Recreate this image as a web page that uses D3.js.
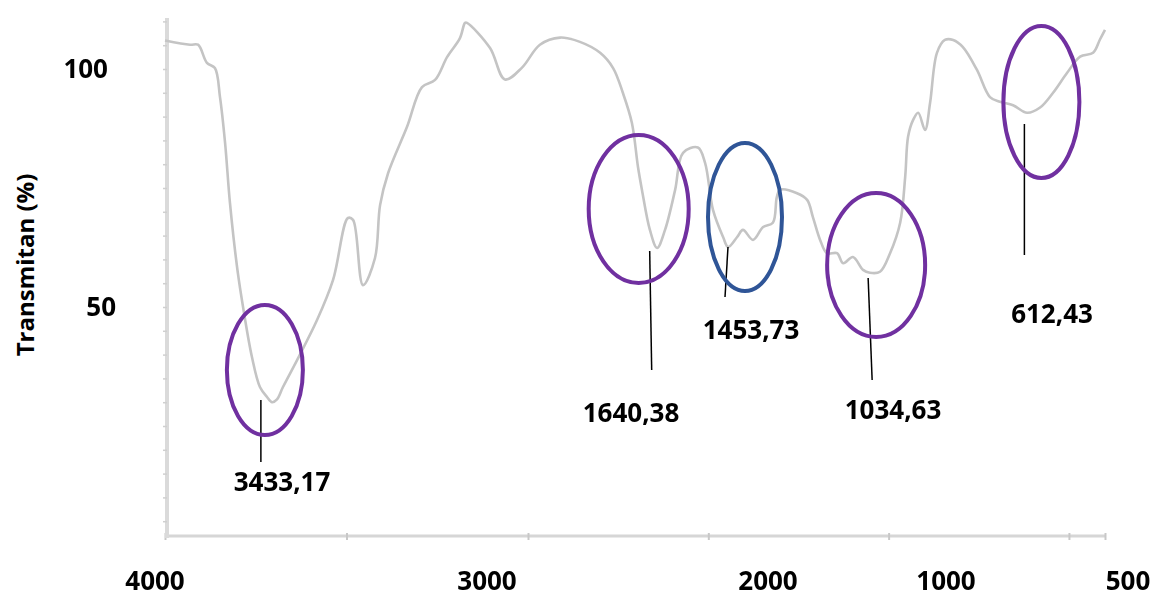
<!DOCTYPE html>
<html>
<head>
<meta charset="utf-8">
<script src="https://cdn.jsdelivr.net/npm/d3@7"></script>
<style>
  html, body { margin: 0; padding: 0; background: #ffffff; }
  svg { display: block; font-family: "Open Sans", "Noto Sans", sans-serif; }
</style>
</head>
<body>
<svg id="chart" width="1154" height="598"></svg>
<script>
// FTIR spectrum: wavenumber (cm-1) against transmittance (%)
const wavenumber = [
  4000, 3862, 3818, 3769, 3725, 3697, 3669, 3642, 3603, 3570, 3521, 3477, 3438, 3410,
  3383, 3350, 3273, 3163, 3074, 2992, 2964, 2909, 2843, 2815, 2771, 2667, 2584, 2512,
  2446, 2375, 2347, 2336, 2209, 2127, 2033, 1967, 1911, 1856, 1800, 1764, 1737, 1712,
  1695, 1684, 1662, 1642, 1620, 1592, 1570, 1529, 1509, 1487, 1459, 1445, 1420, 1404,
  1376, 1348, 1321, 1310, 1301, 1254, 1226, 1210, 1190, 1171, 1143, 1126, 1099, 1071,
  1052, 1024, 996, 968, 954, 946, 932, 918, 899, 885, 866, 844, 821, 794, 755, 719,
  691, 655, 616, 580, 544, 505, 469, 433, 414, 400
];
const transmittance = [
  106.0, 105.1, 105.1, 101.3, 100.2, 94.1, 84.5, 71.8, 58.4, 50.0, 39.5, 33.2, 31.1, 30.0,
  30.6, 33.2, 38.8, 47.2, 55.7, 68.7, 68.3, 54.6, 60.3, 71.4, 78.1, 87.8, 96.2, 97.7,
  102.5, 106.5, 109.7, 109.7, 104.4, 97.8, 100.3, 105.1, 106.6, 105.7, 103.4, 100.2, 95.0, 88.7,
  79.4, 74.6, 66.2, 62.4, 66.2, 74.6, 82.4, 83.5, 80.3, 70.4, 64.7, 62.6, 64.7, 66.2,
  64.1, 66.8, 67.7, 73.1, 74.6, 73.9, 72.5, 68.9, 64.1, 61.3, 61.3, 59.2, 60.5, 57.8,
  57.2, 57.4, 61.3, 67.7, 77.4, 85.8, 89.3, 90.8, 87.2, 92.9, 103.4, 106.1, 106.1, 104.6, 99.8, 94.1,
  93.1, 92.4, 90.8, 91.9, 95.0, 99.2, 102.6, 103.4, 106.2, 108.2
];

// Annotated absorption bands
const peakWavenumbers = [3433.17, 1640.38, 1453.73, 1034.63, 612.43];
const peakLabels = ["3433,17", "1640,38", "1453,73", "1034,63", "612,43"];

// Axis tick values and their printed labels
const xTickValues = [4000, 3000, 2000, 1500, 1000, 500, 400];
const xTickLabels = ["4000", "3000", "2000", "1000", "500"];
const yTickLabelValues = [100, 50];
const yTickLabels = ["100", "50"];
const yTitle = "Transmitan (%)";

// ---- layout ----
const plot = { left: 167, right: 1105, top: 18, bottom: 538 };
const wnBreak = 2000;   // the scale doubles below 2000 cm-1
const labelSize = 26;

// x label positions (centre x, baseline)
const xLabelPos = [[155, 590], [487, 590], [768, 590], [946, 590], [1128, 590]];
// y label right edges
const yLabelRight = [108, 116];

// annotation geometry per band: ellipse centre offset, radii, leader line, label
const annot = [
  { color: "#7030a0", dx: -3,  cy: 370, rx: 38, ry: 65, lx: -7, l1: [400, 462], ldx: 0,  tx: 282, ty: 491 },
  { color: "#7030a0", dx: -19, cy: 209, rx: 50, ry: 74, lx: -8, l1: [251, 370], ldx: 2,  tx: 631, ty: 422 },
  { color: "#2f5597", dx: 20,  cy: 217, rx: 37, ry: 74, lx: 3,  l1: [247, 297], ldx: -3, tx: 751, ty: 339 },
  { color: "#7030a0", dx: 0,   cy: 265, rx: 49, ry: 72, lx: -8, l1: [278, 380], ldx: 4,  tx: 893, ty: 419 },
  { color: "#7030a0", dx: 13,  cy: 102, rx: 38, ry: 76, lx: -4, l1: [124, 255], ldx: 0,  tx: 1052, ty: 323 }
];

const svg = d3.select("#chart");

const defs = svg.append("defs");
defs.append("filter").attr("id", "soft")
  .attr("x", "-5%").attr("y", "-5%").attr("width", "110%").attr("height", "110%")
  .append("feGaussianBlur").attr("stdDeviation", 0.6);

const x = d3.scaleLinear()
  .domain([4000, wnBreak, 400])
  .range([plot.left - 2, plot.left + 361, plot.right]);

const y = d3.scaleLinear()
  .domain([0, 100])
  .range([545, 69]);

const yTop = y.invert(plot.top), yBottom = y.invert(plot.bottom);

// axes
const axisG = svg.append("g").attr("filter", "url(#soft)");

const xAxis = d3.axisBottom(x).tickValues(xTickValues).tickSize(4).tickFormat("");
const gx = axisG.append("g")
  .attr("transform", `translate(0,${plot.bottom - 2})`)
  .call(xAxis);
gx.select(".domain").attr("stroke", "#d6d6d6").attr("stroke-width", 3)
  .attr("d", `M${plot.left},0H${plot.right}`);
gx.selectAll(".tick line").attr("stroke", "#c8c8c8").attr("stroke-width", 2).attr("y1", -3);

const yScaleAxis = y.copy().domain([yBottom, yTop]).range([plot.bottom, plot.top]);
const yAxis = d3.axisLeft(yScaleAxis)
  .tickValues(d3.range(5, yTop, 5))
  .tickSize(4).tickFormat("");
const gy = axisG.append("g")
  .attr("transform", `translate(${plot.left},0)`)
  .call(yAxis);
gy.select(".domain").attr("stroke", "#dadada").attr("stroke-width", 4)
  .attr("d", `M0,${plot.top}V${plot.bottom}`);
gy.selectAll(".tick line").attr("stroke", "#cfcfcf").attr("stroke-width", 1.5);

// spectrum
const spectrum = wavenumber.map((w, i) => ({ w, t: transmittance[i] }));
const line = d3.line()
  .x(d => x(d.w))
  .y(d => y(d.t))
  .curve(d3.curveCatmullRom.alpha(0.5));

svg.append("path")
  .datum(spectrum)
  .attr("d", line)
  .attr("fill", "none")
  .attr("stroke", "#c4c4c4")
  .attr("stroke-width", 2.6)
  .attr("stroke-linejoin", "round")
  .attr("filter", "url(#soft)");

// axis labels
svg.append("g").selectAll("text")
  .data(xTickLabels)
  .join("text")
  .attr("x", (d, i) => xLabelPos[i][0])
  .attr("y", (d, i) => xLabelPos[i][1])
  .attr("text-anchor", "middle")
  .attr("font-weight", "bold")
  .attr("font-size", labelSize)
  .attr("fill", "#000")
  .text(d => d);

svg.append("g").selectAll("text")
  .data(yTickLabels)
  .join("text")
  .attr("x", (d, i) => yLabelRight[i])
  .attr("y", (d, i) => y(yTickLabelValues[i]))
  .attr("dy", "0.36em")
  .attr("text-anchor", "end")
  .attr("font-weight", "bold")
  .attr("font-size", labelSize)
  .attr("fill", "#000")
  .text(d => d);

svg.append("text")
  .attr("transform", `translate(34,265) rotate(-90)`)
  .attr("text-anchor", "middle")
  .attr("font-weight", "bold")
  .attr("font-size", 24)
  .attr("fill", "#000")
  .text(yTitle);

// band annotations
const ann = svg.append("g");
peakWavenumbers.forEach((wn, i) => {
  const a = annot[i];
  const px = x(wn);
  ann.append("line")
    .attr("x1", px + a.lx).attr("y1", a.l1[0])
    .attr("x2", px + a.lx + a.ldx).attr("y2", a.l1[1])
    .attr("stroke", "#000").attr("stroke-width", 1.5);
  ann.append("ellipse")
    .attr("cx", px + a.dx).attr("cy", a.cy)
    .attr("rx", a.rx).attr("ry", a.ry)
    .attr("fill", "none")
    .attr("stroke", a.color)
    .attr("stroke-width", 4);
  ann.append("text")
    .attr("x", a.tx).attr("y", a.ty)
    .attr("text-anchor", "middle")
    .attr("font-weight", "bold")
    .attr("font-size", labelSize)
    .attr("fill", "#000")
    .text(peakLabels[i]);
});
</script>
</body>
</html>
